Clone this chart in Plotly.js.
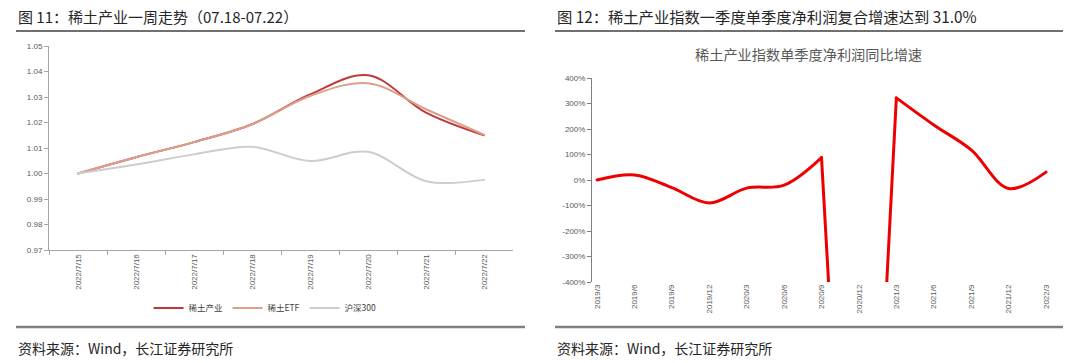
<!DOCTYPE html>
<html>
<head>
<meta charset="utf-8">
<script src="https://cdn.plot.ly/plotly-3.0.1.min.js"></script>
<style>
html,body{margin:0;padding:0;background:#ffffff;}
#chart{width:1080px;height:363px;}
#chart .scatterlayer path.js-line{stroke-linecap:round;stroke-linejoin:round;}
</style>
</head>
<body>
<div id="chart"></div>
<script>
// ---- Data ----
const weekDates = ['2022/7/15','2022/7/16','2022/7/17','2022/7/18','2022/7/19','2022/7/20','2022/7/21','2022/7/22'];
const rareEarthIndustry = [1.0000, 1.0064, 1.0123, 1.0193, 1.0310, 1.0385, 1.0239, 1.0150];
const rareEarthETF      = [1.0000, 1.0064, 1.0123, 1.0193, 1.0304, 1.0354, 1.0252, 1.0152];
const csi300            = [1.0000, 1.0035, 1.0075, 1.0105, 1.0049, 1.0085, 0.9970, 0.9975];
const leftYTicks = [0.97, 0.98, 0.99, 1.00, 1.01, 1.02, 1.03, 1.04, 1.05];

const quarters = ['2019/3','2019/6','2019/9','2019/12','2020/3','2020/6','2020/9','2020/12','2021/3','2021/6','2021/9','2021/12','2022/3'];
const profitGrowth = [0, 20, -30, -90, -32, -20, 88, -2500, 322, 216, 118, -33, 31];
const rightYTicks = [-400, -300, -200, -100, 0, 100, 200, 300, 400];
const rightYTickText = ['-400%', '-300%', '-200%', '-100%', '0%', '100%', '200%', '300%', '400%'];

// ---- Layout helpers (pixel -> paper) ----
const W = 1080, H = 363;
const X = px => px / W;
const Y = py => 1 - py / H;

const FONT = 'Liberation Sans, Arial, "Noto Sans CJK SC", sans-serif';
const CJK = '"Noto Sans CJK SC", "Liberation Sans", sans-serif';
const axisGray = '#a6a6a6';
const tickGray = '#595959';
const RED = '#ee0000';

// The off-scale quarter (2020/12) is joined with straight segments, the rest is smoothed
const offIdx = profitGrowth.indexOf(Math.min(...profitGrowth));
function part(a, b, shape) {
  return {
    x: quarters.slice(a, b + 1), y: profitGrowth.slice(a, b + 1),
    type: 'scatter', mode: 'lines', name: '净利润同比增速', showlegend: false,
    line: {color: RED, width: 3, shape: shape, smoothing: 1},
    xaxis: 'x2', yaxis: 'y2'
  };
}

const traces = [
  {
    x: weekDates, y: rareEarthIndustry, name: '稀土产业', type: 'scatter', mode: 'lines',
    line: {color: '#c0393b', width: 2, shape: 'spline', smoothing: 1},
    xaxis: 'x', yaxis: 'y'
  },
  {
    x: weekDates, y: rareEarthETF, name: '稀土ETF', type: 'scatter', mode: 'lines',
    line: {color: '#dc9f8a', width: 2, shape: 'spline', smoothing: 1},
    xaxis: 'x', yaxis: 'y'
  },
  {
    x: weekDates, y: csi300, name: '沪深300', type: 'scatter', mode: 'lines',
    line: {color: '#cdcdcd', width: 2, shape: 'spline', smoothing: 1},
    xaxis: 'x', yaxis: 'y'
  },
  part(0, offIdx - 1, 'spline'),
  part(offIdx - 1, offIdx + 1, 'linear'),
  part(offIdx + 1, quarters.length - 1, 'spline')
];

const rightRange = [-0.134, 12.16];
const zeroTicks = quarters.slice(1).map((q, i) => i + 1 + rightRange[0]);

const layout = {
  width: W, height: H,
  margin: {l: 0, r: 0, t: 0, b: 0, pad: 0},
  paper_bgcolor: '#ffffff', plot_bgcolor: 'rgba(0,0,0,0)',
  font: {family: FONT, size: 8, color: tickGray},
  showlegend: true,
  legend: {
    orientation: 'h', x: X(265), xanchor: 'center', y: Y(308), yanchor: 'middle',
    font: {family: CJK, size: 8.5, color: '#404040'}, bgcolor: 'rgba(0,0,0,0)',
    itemwidth: 30, tracegroupgap: 0, traceorder: 'normal'
  },
  xaxis: {
    domain: [X(49), X(513)], anchor: 'y', type: 'category', range: [-0.5, 7.5],
    tickson: 'boundaries', ticks: 'outside', ticklen: 4, tickcolor: axisGray, tickwidth: 1,
    showline: true, linecolor: axisGray, linewidth: 1,
    tickangle: -90, tickfont: {family: FONT, size: 8, color: tickGray},
    showgrid: false, zeroline: false, fixedrange: true
  },
  yaxis: {
    domain: [Y(250), Y(46)], anchor: 'x', range: [0.97, 1.05],
    tickvals: leftYTicks, tickformat: '.2f',
    ticks: 'outside', ticklen: 4, tickcolor: axisGray, tickwidth: 1,
    showline: true, linecolor: axisGray, linewidth: 1,
    tickfont: {family: FONT, size: 8, color: tickGray},
    showgrid: false, zeroline: false, fixedrange: true
  },
  xaxis2: {
    domain: [X(592), X(1052)], anchor: 'y2', type: 'category', range: rightRange,
    ticks: '', showline: false, tickangle: -90,
    tickfont: {family: FONT, size: 8, color: tickGray},
    showgrid: false, zeroline: false, fixedrange: true
  },
  xaxis3: {
    overlaying: 'x2', anchor: 'free', position: Y(180), side: 'bottom',
    type: 'linear', range: rightRange, tickvals: zeroTicks,
    showticklabels: false, ticks: 'inside', ticklen: 3, tickcolor: '#808080', tickwidth: 1,
    showline: true, linecolor: '#808080', linewidth: 1,
    showgrid: false, zeroline: false, fixedrange: true
  },
  yaxis2: {
    domain: [Y(282), Y(78)], anchor: 'x2', range: [-400, 400],
    tickvals: rightYTicks, ticktext: rightYTickText,
    ticks: 'outside', ticklen: 4, tickcolor: '#808080', tickwidth: 1,
    showline: true, linecolor: '#808080', linewidth: 1,
    tickfont: {family: FONT, size: 8, color: tickGray},
    showgrid: false, zeroline: false, fixedrange: true
  },
  annotations: [
    {xref: 'paper', yref: 'paper', x: X(16), y: Y(16), xanchor: 'left', yanchor: 'middle', showarrow: false,
     text: '图 11：稀土产业一周走势（07.18-07.22）', font: {family: CJK, size: 15, color: '#262626'}},
    {xref: 'paper', yref: 'paper', x: X(555), y: Y(16), xanchor: 'left', yanchor: 'middle', showarrow: false,
     text: '图 12：稀土产业指数一季度单季度净利润复合增速达到 31.0%', font: {family: CJK, size: 15.3, color: '#262626'}},
    {xref: 'paper', yref: 'paper', x: X(808), y: Y(54), xanchor: 'center', yanchor: 'middle', showarrow: false,
     text: '稀土产业指数单季度净利润同比增速', font: {family: CJK, size: 14.2, color: '#595959'}},
    {xref: 'paper', yref: 'paper', x: X(16), y: Y(348), xanchor: 'left', yanchor: 'middle', showarrow: false,
     text: '资料来源：Wind，长江证券研究所', font: {family: CJK, size: 14, color: '#262626'}},
    {xref: 'paper', yref: 'paper', x: X(555), y: Y(348), xanchor: 'left', yanchor: 'middle', showarrow: false,
     text: '资料来源：Wind，长江证券研究所', font: {family: CJK, size: 14, color: '#262626'}}
  ],
  shapes: [
    {type: 'line', xref: 'paper', yref: 'paper', x0: X(16), x1: X(525), y0: Y(31), y1: Y(31), line: {color: '#404040', width: 1.5}},
    {type: 'line', xref: 'paper', yref: 'paper', x0: X(555), x1: X(1063), y0: Y(31), y1: Y(31), line: {color: '#404040', width: 1.5}},
    {type: 'line', xref: 'paper', yref: 'paper', x0: X(16), x1: X(525), y0: Y(327), y1: Y(327), line: {color: '#7f7f7f', width: 2.5}},
    {type: 'line', xref: 'paper', yref: 'paper', x0: X(555), x1: X(1063), y0: Y(327), y1: Y(327), line: {color: '#7f7f7f', width: 2.5}}
  ]
};

Plotly.newPlot('chart', traces, layout, {staticPlot: true, displayModeBar: false, responsive: false});
</script>
</body>
</html>
